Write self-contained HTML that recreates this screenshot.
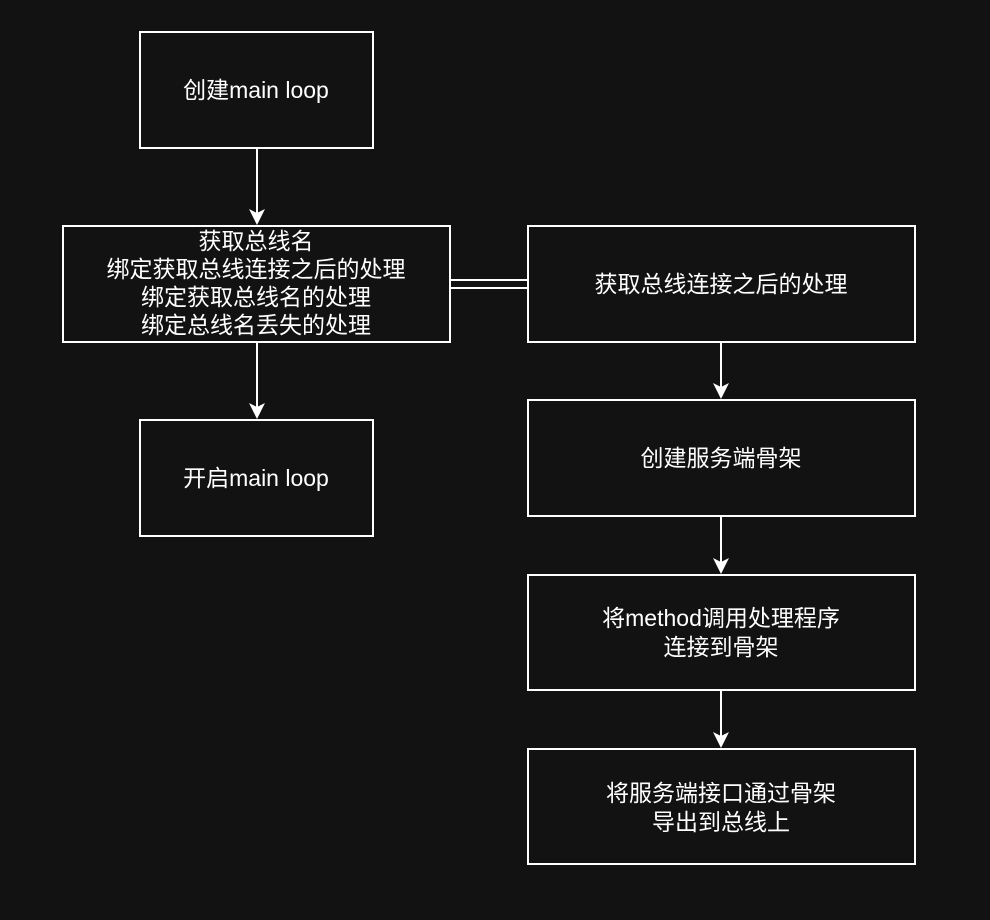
<!DOCTYPE html>
<html><head><meta charset="utf-8"><style>
body{margin:0;background:#121212;}
svg{display:block}
text{font-family:"Liberation Sans","Noto Sans CJK SC",sans-serif;font-size:23px;fill:#fff;text-anchor:middle}
</style></head><body>
<svg width="990" height="920" viewBox="0 0 990 920">
<rect width="990" height="920" fill="#121212"/>
<g fill="none" stroke="#fff" stroke-width="2">
<rect x="140" y="32" width="233" height="116"/>
<rect x="63" y="226" width="387" height="116"/>
<rect x="140" y="420" width="233" height="116"/>
<rect x="528" y="226" width="387" height="116"/>
<rect x="528" y="400" width="387" height="116"/>
<rect x="528" y="575" width="387" height="115"/>
<rect x="528" y="749" width="387" height="115"/>
<line x1="257" y1="148" x2="257" y2="214"/>
<line x1="257" y1="342" x2="257" y2="408"/>
<line x1="721" y1="342" x2="721" y2="388"/>
<line x1="721" y1="516" x2="721" y2="563"/>
<line x1="721" y1="690" x2="721" y2="737"/>
<line x1="450" y1="280" x2="528" y2="280"/>
<line x1="450" y1="288" x2="528" y2="288"/>
</g>
<g fill="#fff">
<polygon points="249,209 257,225 265,209 257,213"/>
<polygon points="249,403 257,419 265,403 257,407"/>
<polygon points="713,383 721,399 729,383 721,387"/>
<polygon points="713,558 721,574 729,558 721,562"/>
<polygon points="713,732 721,748 729,732 721,736"/>
</g>
<text x="256" y="98">创建main loop</text>
<text x="256" y="249">获取总线名</text>
<text x="256" y="277">绑定获取总线连接之后的处理</text>
<text x="256" y="305">绑定获取总线名的处理</text>
<text x="256" y="333">绑定总线名丢失的处理</text>
<text x="256" y="486">开启main loop</text>
<text x="721" y="292">获取总线连接之后的处理</text>
<text x="721" y="466">创建服务端骨架</text>
<text x="721" y="626">将method调用处理程序</text>
<text x="721" y="655">连接到骨架</text>
<text x="721" y="801">将服务端接口通过骨架</text>
<text x="721" y="830">导出到总线上</text>
</svg>
</body></html>
